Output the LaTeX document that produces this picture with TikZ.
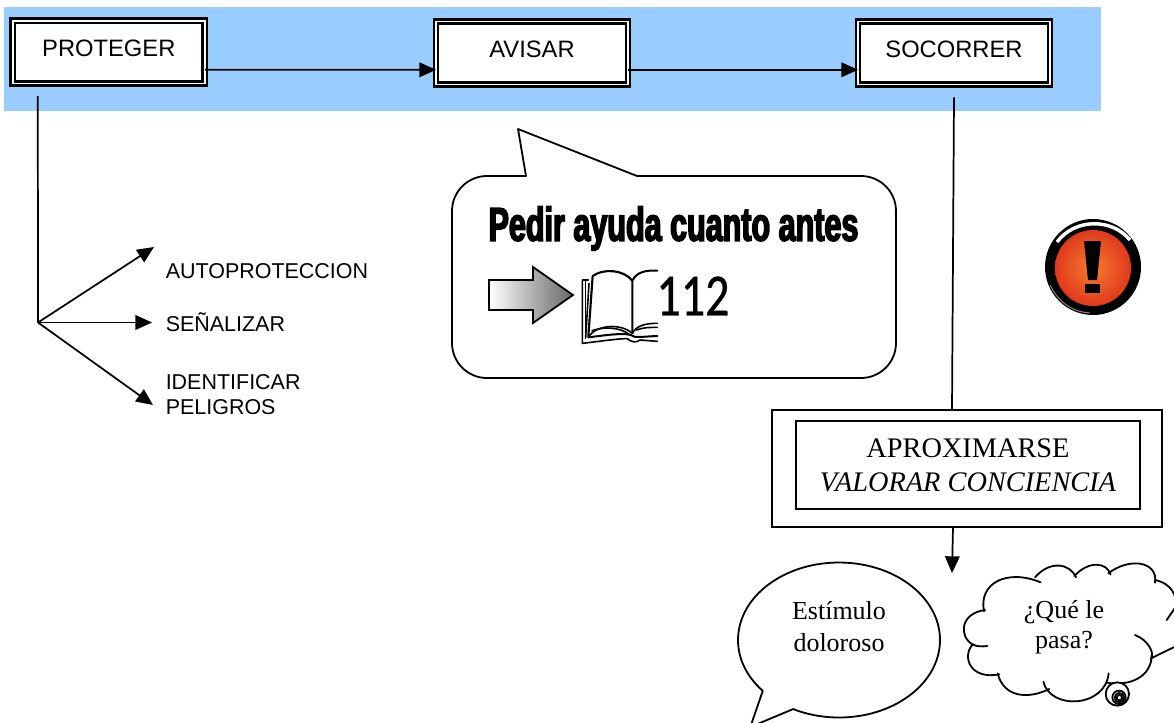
\documentclass[tikz,border=0pt]{standalone}
\usepackage{fontspec}
\setmainfont{Liberation Serif}
\newfontfamily\arialf{Liberation Sans}
\newfontfamily\impactf[FakeStretch=0.645,FakeBold=3.2]{Liberation Sans Bold}
\newfontfamily\handf[FakeStretch=0.8,FakeBold=0.6]{Carlito}
\usetikzlibrary{arrows.meta,calc,shadings}
\definecolor{banner}{HTML}{99CCFF}
\definecolor{iconin}{HTML}{F77A30}
\definecolor{iconout}{HTML}{E03A1C}
\tikzset{
 stagebox/.style={draw=black,fill=white,double=white,double distance=1.1pt,line width=2pt,minimum width=144pt,minimum height=47pt,inner sep=0pt,outer sep=0pt,font=\arialf\fontsize{17.8}{20}\selectfont,text depth=6.8pt,text height=13pt},
 link/.style={line width=1.3pt,draw=black},
 bigtip/.style={-{Triangle[length=12.5pt,width=11pt]}},
 lab/.style={anchor=west,align=left,inner sep=0pt,font=\arialf\fontsize{16.1}{18.8}\selectfont},
 serifl/.style={align=center,inner sep=0pt,font=\fontsize{19.5}{24}\selectfont},
 outl/.style={line width=1.35pt,draw=black,line join=round},
}
\begin{document}
\begin{tikzpicture}[x=0.75pt,y=-0.75pt]
\useasboundingbox (0,0) rectangle (1174,722);
\clip (0,0) rectangle (1174,722);
\fill[white] (0,0) rectangle (1174,722);
\fill[banner] (4,7) rectangle (1101,111);
% stages
\node[stagebox] (proteger) at (108.8,52.2) {PROTEGER};
\node[stagebox] (avisar) at (532,53) {AVISAR};
\node[stagebox] (socorrer) at (954,53) {SOCORRER};
\draw[link,bigtip] ([yshift=-13.2pt]proteger.east) -- ([yshift=-12.6pt]avisar.west);
\draw[link,bigtip] ([yshift=-12.6pt]avisar.east) -- ([yshift=-12.6pt]socorrer.west);
% protect branch
\coordinate (hub) at (38,322.5);
\coordinate (t1) at (154,247);
\coordinate (t2) at (152,322.5);
\coordinate (t3) at (153,405);
\draw[link] ($(proteger.south west)+(25,12.5)$) -- (hub);
\draw[link,bigtip] (hub) -- (t1);
\draw[link,bigtip] (hub) -- (t2);
\draw[link,bigtip] (hub) -- (t3);
\node[lab] (l1) at (165.5,271) {AUTOPROTECCION};
\node[lab] (l2) at (165.5,322.5) {SEÑALIZAR};
\node[lab] (l3) at (165.5,394.5) {IDENTIFICAR\\PELIGROS};
% help callout
\draw[outl,fill=white] (526,176) -- (518,129) -- (637,176) -- (861,176)
  arc[start angle=-90,end angle=0,radius=35] -- (896,343)
  arc[start angle=0,end angle=90,radius=35] -- (487,378)
  arc[start angle=90,end angle=180,radius=35] -- (452,211)
  arc[start angle=180,end angle=270,radius=35] -- cycle;
\node[inner sep=0pt,font=\impactf\fontsize{35.5}{36}\selectfont] (pedir) at (673.5,228.5) {Pedir ayuda cuanto antes};
\node[inner sep=0pt,font=\handf\fontsize{45}{48}\selectfont] (num) at (693,296) {112};
\path[draw=black,line width=1.35pt,line join=miter,left color=white,right color=black!60]
  (489,280) -- (533,280) -- (533,267) -- (573,295) -- (533,323) -- (533,310) -- (489,310) -- cycle;
% book
\begin{scope}[shift={(440,120)},x=0.25pt,y=-0.25pt,line width=1.2pt,line cap=round,line join=round]
\draw (445,480) -- (427,480) -- (427,670) .. controls (480,664) and (540,655) .. (562,656) .. controls (575,668) and (590,668) .. (600,660) -- (652,664);
\draw (436,482) -- (436,655);
\draw[line width=1.6pt] (445,650) -- (458,468) .. controls (490,445) and (550,448) .. (577,482) -- (577,640);
\draw (447,490) -- (437,652);
\draw[line width=1.5pt] (577,482) .. controls (590,455) and (620,450) .. (652,452);
\draw (445,650) .. controls (470,615) and (540,608) .. (577,640);
\draw (577,640) .. controls (590,615) and (620,610) .. (652,610);
\draw (456,632) .. controls (490,620) and (540,620) .. (570,645);
\draw (590,630) .. controls (610,622) and (630,622) .. (652,622);
\draw[line width=1.5pt] (445,652) .. controls (500,645) and (550,638) .. (572,645) .. controls (585,655) and (600,650) .. (652,648);
\end{scope}
% warning icon
\fill[black] (1093,267) circle[radius=48];
\draw[white,line width=2.6pt] (1057,242) .. controls (1075,218) and (1112,218) .. (1130,240);
\draw[gray,line width=.8pt] (1050,285) .. controls (1060,305) and (1075,312) .. (1090,313);
\shade[inner color=iconin,outer color=iconout] (1093,268) circle[radius=38];
\fill[black] (1084,241) -- (1101,241) -- (1097,280) -- (1088,280) -- cycle;
\fill[black] (1085,284) rectangle (1100,293);
% approach box
\node[draw=black,line width=1.5pt,fill=white,minimum width=292.5pt,minimum height=87.75pt,inner sep=0pt,outer sep=0pt] (outerbox) at (967,468.5) {};
\node[draw=black,line width=1.1pt,minimum width=258pt,minimum height=66pt,inner sep=0pt,outer sep=0pt,align=center,font=\fontsize{21.25}{25.5}\selectfont] (innerbox) at (968,465) {APROXIMARSE\\\textit{VALORAR CONCIENCIA}};
\draw[link] ($(socorrer.south)+(0,13)$) -- ($(outerbox.north west)+(180,0)$);
\coordinate (arrowend) at (952,573);
\draw[link,bigtip] ($(outerbox.south west)+(181,0)$) -- (arrowend);
% speech bubble
\coordinate (s0) at ($(839,640)+(139:101 and 77.5)$);
\draw[outl,fill=white] (s0) arc[start angle=139,end angle=477,x radius=101,y radius=77.5] -- (750.3,727) -- cycle;
\node[serifl] (est) at (839,627) {Estímulo\\doloroso};
% cloud
\begin{scope}[shift={(720,540)},x=0.25pt,y=-0.25pt,line width=1.35pt,line cap=round]
\fill[white] (795,212) .. controls (780,130) and (860,85) .. (955,120) .. controls (990,65) and (1050,70) .. (1068,108) .. controls (1110,65) and (1160,65) .. (1170,100) .. controls (1230,50) and (1310,65) .. (1308,120) .. controls (1360,130) and (1375,170) .. (1362,215) -- (1370,320) -- (1295,355) .. controls (1290,410) and (1230,440) .. (1165,425) .. controls (1150,505) and (990,510) .. (972,425) .. controls (920,480) and (850,470) .. (835,405) .. controls (750,420) and (725,350) .. (760,315) .. controls (720,290) and (720,220) .. (795,212) -- cycle;
\draw (792,214) .. controls (775,130) and (860,85) .. (962,127);
\draw (945,112) .. controls (990,60) and (1050,70) .. (1068,112);
\draw (1063,108) .. controls (1105,62) and (1160,65) .. (1172,104);
\draw (1165,100) .. controls (1230,50) and (1315,65) .. (1305,128);
\draw (1305,120) .. controls (1355,130) and (1375,170) .. (1364,205);
\draw (1364,205) -- (1340,240);
\draw (1245,285) .. controls (1285,300) and (1305,340) .. (1293,358);
\draw (1293,355) -- (1365,320);
\draw (1295,345) .. controls (1295,410) and (1230,440) .. (1160,428);
\draw (1166,400) .. controls (1155,505) and (990,510) .. (970,425);
\draw (988,447) .. controls (920,480) and (850,470) .. (833,400);
\draw (838,403) .. controls (750,420) and (725,350) .. (758,313);
\draw (758,313) .. controls (770,320) and (785,320) .. (802,318);
\draw (760,315) .. controls (715,290) and (720,220) .. (795,210);
\fill[white] (1192,462) circle[radius=35];
\draw (1192,462) circle[radius=35];
\draw (1197,472) circle[radius=20];
\draw (1198,473) circle[radius=14];
\draw (1198,473) circle[radius=8];
\end{scope}
\node[serifl] (que) at (1064,627) {\raisebox{-1.5pt}{¿Qué le}\\pasa?};
\end{tikzpicture}
\end{document}
